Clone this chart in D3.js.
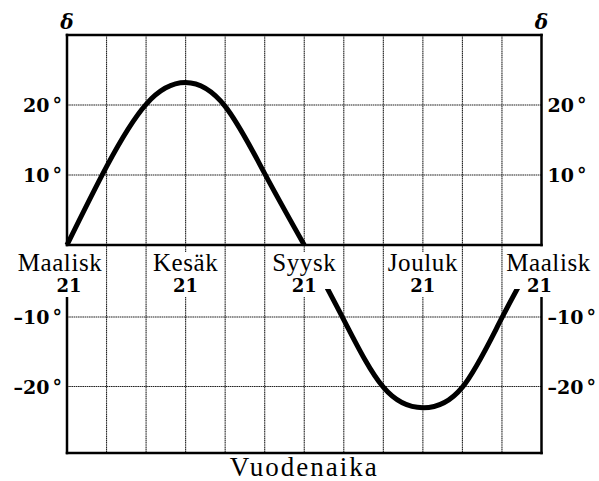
<!DOCTYPE html>
<html>
<head>
<meta charset="utf-8">
<script src="https://cdn.jsdelivr.net/npm/d3@7"></script>
<style>
  body { margin: 0; background: #fff; }
  svg { display: block; }
</style>
</head>
<body>
<svg id="chart"></svg>
<script>
// months after March 21 (0..12) and sun declination in degrees
const monthsUpper = [0, 1, 2, 3, 4, 5, 6];
const declUpper = [0, 11.2, 20.1, 23.2, 19.8, 10.2, 0];
const monthsLower = [6, 7, 8, 9, 10, 11, 12];
const declLower = [0, -10.4, -20.1, -23.2, -20.1, -10.1, 0];

const gridMonths = [0, 1, 2, 3, 4, 5, 6, 7, 8, 9, 10, 11, 12];
const gridDegrees = [20, 10, -10, -20];
const tickLabels = ["20", "10", "–10", "–20"];

const labelMonths = [0, 3, 6, 9, 12];
const labelNames = ["Maalisk", "Kesäk", "Syysk", "Jouluk", "Maalisk"];
const labelDay = "21";

const xTitle = "Vuodenaika";
const yTitle = "δ";

const svgWidth = 599;
const svgHeight = 481;

const svg = d3.select("#chart")
    .attr("width", svgWidth)
    .attr("height", svgHeight);

//Scales
const scaleX = d3.scaleLinear()
    .domain([0, 12])
    .range([67, 541.5]);
// the scan is a little squeezed below zero, so map each 10 degree step
const scaleY = d3.scaleLinear()
    .domain([-30, -20, -10, 0, 10, 20, 30])
    .range([453, 386.5, 317, 245, 175, 105, 35]);

const plotLeft = scaleX(0), plotRight = scaleX(12);
const plotTop = scaleY(30), plotBottom = scaleY(-30), plotZero = scaleY(0);

//Grid
const gridG = svg.append("g").attr("id", "gridG")
    .style("stroke", "#222")
    .style("stroke-width", 1.1)
    .style("stroke-dasharray", "1.6,0.6");
gridG.selectAll("line.v")
    .data(gridMonths.slice(1, -1))
    .join("line")
    .attr("class", "v")
    .attr("x1", d => scaleX(d))
    .attr("x2", d => scaleX(d))
    .attr("y1", plotTop)
    .attr("y2", plotBottom);
gridG.selectAll("line.h")
    .data(gridDegrees)
    .join("line")
    .attr("class", "h")
    .attr("x1", plotLeft)
    .attr("x2", plotRight)
    .attr("y1", d => scaleY(d))
    .attr("y2", d => scaleY(d));

//Frame
const frameG = svg.append("g").attr("id", "frameG")
    .style("stroke", "#000")
    .style("stroke-width", 2.5)
    .style("stroke-linecap", "square");
frameG.append("line").attr("x1", plotLeft).attr("x2", plotRight).attr("y1", plotTop).attr("y2", plotTop);
frameG.append("line").attr("x1", plotLeft).attr("x2", plotRight).attr("y1", plotBottom).attr("y2", plotBottom);
frameG.append("line").attr("x1", plotLeft).attr("x2", plotRight).attr("y1", plotZero).attr("y2", plotZero);
[plotLeft, plotRight].forEach(x => {
    frameG.append("line").attr("x1", x).attr("x2", x).attr("y1", plotTop).attr("y2", plotZero);
    frameG.append("line").attr("x1", x).attr("x2", x).attr("y1", scaleY(-7)).attr("y2", plotBottom);
});

//Month labels with white knockout behind them
const labelG = svg.append("g").attr("id", "labelG");
labelMonths.forEach((m, i) => {
    const nudge = i === 0 ? -7 : (i === labelMonths.length - 1 ? 7 : 0);
    const g = labelG.append("g");
    const bg = g.append("rect").style("fill", "#fff");
    g.append("text")
        .attr("x", scaleX(m) + nudge)
        .attr("y", plotZero + 26)
        .attr("text-anchor", "middle")
        .style("font-family", "'Liberation Serif', 'Times New Roman', serif")
        .style("font-size", "25px")
        .style("letter-spacing", "0.6px")
        .text(labelNames[i]);
    g.append("text")
        .attr("x", scaleX(m) + (i === 0 ? 2 : (i === labelMonths.length - 1 ? -2 : 0)))
        .attr("y", plotZero + 47)
        .attr("text-anchor", "middle")
        .style("font-family", "'DejaVu Serif', serif")
        .style("font-weight", "bold")
        .style("font-size", "18px")
        .text(labelDay);
    const box = g.node().getBBox();
    bg.attr("x", box.x - 2)
        .attr("y", box.y + 3)
        .attr("width", box.width + 4)
        .attr("height", box.height - 2);
});

//Curves
const lineGenerator = d3.line()
    .x(d => scaleX(d[0]))
    .y(d => scaleY(d[1]))
    .curve(d3.curveNatural);

svg.append("clipPath")
    .attr("id", "clipLower")
    .append("rect")
    .attr("x", plotLeft)
    .attr("y", scaleY(-6.1))
    .attr("width", plotRight - plotLeft)
    .attr("height", plotBottom - scaleY(-6.1));

svg.append("path")
    .attr("id", "upperPath")
    .attr("d", lineGenerator(d3.zip(monthsUpper, declUpper)))
    .style("fill", "none")
    .style("stroke", "#000")
    .style("stroke-width", 5);

svg.append("path")
    .attr("id", "lowerPath")
    .attr("clip-path", "url(#clipLower)")
    .attr("d", lineGenerator(d3.zip(monthsLower, declLower)))
    .style("fill", "none")
    .style("stroke", "#000")
    .style("stroke-width", 5);

//Degree labels, both sides
const tickG = svg.append("g")
    .attr("id", "tickG")
    .style("font-family", "'DejaVu Serif', serif")
    .style("font-weight", "bold")
    .style("font-size", "19px");
function degreeText(sel) {
    sel.append("tspan").text((d, i) => tickLabels[i]);
    sel.append("tspan").attr("dx", 3).attr("dy", -1).text("°");
}
tickG.selectAll("text.l")
    .data(gridDegrees)
    .join("text")
    .attr("class", "l")
    .attr("x", plotLeft - 5)
    .attr("y", d => scaleY(d) + 7)
    .attr("text-anchor", "end")
    .call(degreeText);
tickG.selectAll("text.r")
    .data(gridDegrees)
    .join("text")
    .attr("class", "r")
    .attr("x", plotRight + 6)
    .attr("y", d => scaleY(d) + 7)
    .attr("text-anchor", "start")
    .call(degreeText);

//Titles
[plotLeft, plotRight].forEach(x => {
    svg.append("text")
        .attr("x", x)
        .attr("y", plotTop - 6)
        .attr("text-anchor", "middle")
        .style("font-family", "'DejaVu Serif', serif")
        .style("font-weight", "bold")
        .style("font-style", "italic")
        .style("font-size", "20px")
        .text(yTitle);
});

svg.append("text")
    .attr("x", (plotLeft + plotRight) / 2)
    .attr("y", 476)
    .attr("text-anchor", "middle")
    .style("font-family", "'Liberation Serif', 'Times New Roman', serif")
    .style("font-size", "27px")
    .style("letter-spacing", "2px")
    .text(xTitle);
</script>
</body>
</html>
